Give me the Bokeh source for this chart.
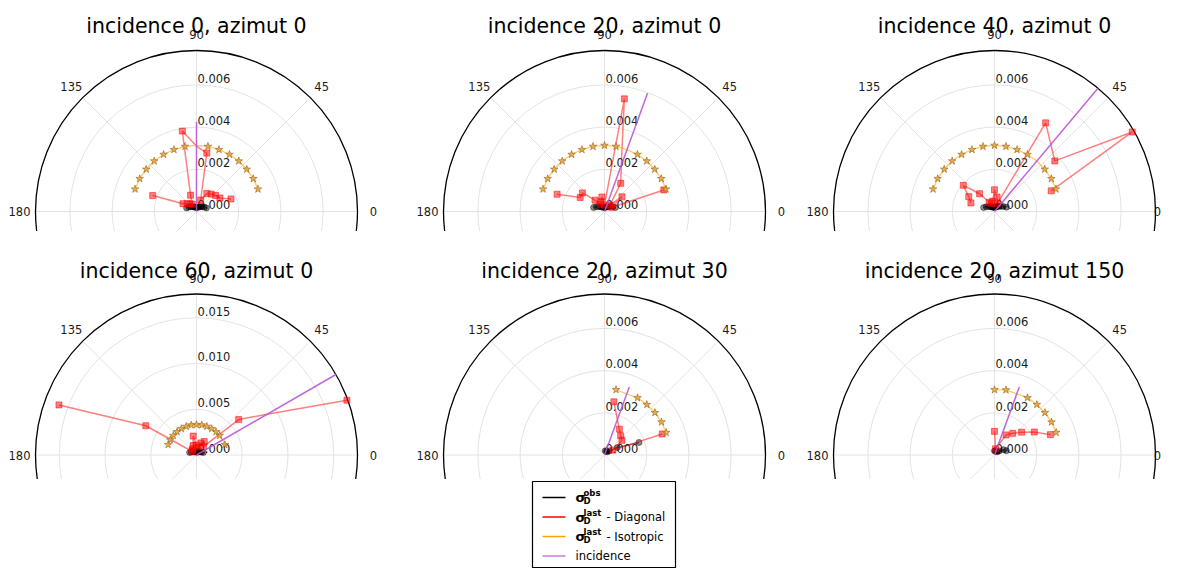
import numpy as np
from bokeh.plotting import figure
from bokeh.layouts import column, row
from bokeh.models import Range1d, Spacer
from bokeh.embed import file_html
from bokeh.resources import INLINE
from bokeh.core.properties import value

FONT = "DejaVu Sans"

# ------------------------------------------------------------------ data
titles = ["incidence 0, azimut 0", "incidence 20, azimut 0", "incidence 40, azimut 0",
          "incidence 60, azimut 0", "incidence 20, azimut 30", "incidence 20, azimut 150"]
incidence = [0, 20, 40, 60, 20, 20]

theta_az0 = [20, 30, 40, 50, 60, 70, 80, 90, 100, 110, 120, 130, 140, 150, 160]
theta_az30 = [20, 30, 40, 50, 60, 80]
theta_az150 = [20, 30, 40, 50, 60, 80, 90]

# incidence 0, azimut 0
obs_i0 = [0.00050, 0.00042, 0.00035, 0.00030, 0.00025, 0.00022, 0.00020, 0.00020,
          0.00020, 0.00022, 0.00025, 0.00030, 0.00035, 0.00042, 0.00050]
diag_i0 = [0.00174, 0.00128, 0.00118, 0.00108, 0.00098, 0.00058, 0.00281, 0.00310,
           0.00387, 0.00082, 0.00040, 0.00048, 0.00058, 0.00074, 0.00221]
iso_i0 = [0.00310, 0.00311, 0.00311, 0.00312, 0.00312, 0.00312, 0.00313, 0.00313,
          0.00313, 0.00312, 0.00312, 0.00312, 0.00311, 0.00311, 0.00310]
# incidence 20, azimut 0
obs_i20 = [0.00055, 0.00045, 0.00036, 0.00030, 0.00026, 0.00022, 0.00020, 0.00020,
           0.00020, 0.00022, 0.00025, 0.00030, 0.00036, 0.00045, 0.00055]
diag_i20 = [0.00299, 0.00040, 0.00108, 0.00040, 0.00154, 0.00232, 0.00542, 0.00030,
            0.00070, 0.00050, 0.00040, 0.00070, 0.00137, 0.00133, 0.00239]
iso_i20 = [0.00310, 0.00311, 0.00311, 0.00312, 0.00312, 0.00312, 0.00313, 0.00313,
           0.00313, 0.00312, 0.00312, 0.00312, 0.00311, 0.00311, 0.00310]
# incidence 40, azimut 0
obs_i40 = [0.00060, 0.00048, 0.00038, 0.00032, 0.00027, 0.00023, 0.00020, 0.00020,
           0.00020, 0.00022, 0.00025, 0.00030, 0.00036, 0.00045, 0.00055]
diag_i40 = [0.00286, 0.00754, 0.00373, 0.00415, 0.00485, 0.00040, 0.00070, 0.00103,
            0.00050, 0.00040, 0.00050, 0.00110, 0.00193, 0.00141, 0.00119]
iso_i40 = [0.00310, 0.00311, 0.00311, 0.00312, 0.00312, 0.00312, 0.00313, 0.00313,
           0.00313, 0.00312, 0.00312, 0.00312, 0.00311, 0.00311, 0.00310]
# incidence 60, azimut 0
obs_i60 = [0.00080, 0.00065, 0.00055, 0.00045, 0.00040, 0.00035, 0.00035, 0.00035,
           0.00035, 0.00035, 0.00040, 0.00045, 0.00055, 0.00065, 0.00080]
diag_i60 = [0.01750, 0.00890, 0.00602, 0.00120, 0.00170, 0.00140, 0.00090, 0.00110,
            0.00210, 0.00110, 0.00080, 0.00070, 0.00060, 0.00640, 0.01600]
iso_i60 = [0.00330, 0.00330, 0.00331, 0.00331, 0.00332, 0.00332, 0.00332, 0.00332,
           0.00332, 0.00332, 0.00332, 0.00331, 0.00331, 0.00330, 0.00330]
# incidence 20, azimut 30
obs_a30 = [0.00174, 0.00070, 0.00030, 0.00020, 0.00020, 0.00020]
diag_a30 = [0.00291, 0.00046, 0.00108, 0.00119, 0.00141, 0.00256]
iso_a30 = [0.00311, 0.00312, 0.00312, 0.00312, 0.00313, 0.00314]
# incidence 20, azimut 150
obs_a150 = [0.00060, 0.00050, 0.00030, 0.00020, 0.00020, 0.00020, 0.00020]
diag_a150 = [0.00282, 0.00218, 0.00168, 0.00134, 0.00110, 0.00030, 0.00112]
iso_a150 = [0.00311, 0.00312, 0.00312, 0.00312, 0.00313, 0.00313, 0.00309]

incidence_length = [0.00424, 0.00596, 0.00763, 0.0176, 0.00343, 0.00343]
r_max = [0.00763, 0.00763, 0.00763, 0.0176, 0.00763, 0.00763]
r_ticks_small = [0.002, 0.004, 0.006]
r_ticks_large = [0.005, 0.010, 0.015]
angle_ticks = [0, 45, 90, 135, 180]

panels = [
    (theta_az0, obs_i0, diag_i0, iso_i0, r_ticks_small),
    (theta_az0, obs_i20, diag_i20, iso_i20, r_ticks_small),
    (theta_az0, obs_i40, diag_i40, iso_i40, r_ticks_small),
    (theta_az0, obs_i60, diag_i60, iso_i60, r_ticks_large),
    (theta_az30, obs_a30, diag_a30, iso_a30, r_ticks_small),
    (theta_az150, obs_a150, diag_a150, iso_a150, r_ticks_small),
]

# ------------------------------------------------------------------ layout / style
TOTAL_W = 1163
R_PX = 161
COL_W = [408, 390, 365]
COL_CX = [196, 196, 196]
ROW_H = [231, 234]
ROW_CY = [211, 209.5]
ROW_TITLE_BASE = [25.3, 25.0]
GAP = 14
LEG_H = 89
GRID = "#e3e3e3"
RED = "#ff0000"
ORANGE = "#ffa500"
PURPLE = "#ba55d3"


def make_panel(k):
    col, rw = k % 3, k // 3
    theta, obs, diag, iso, rticks = panels[k]
    rmax = r_max[k]
    w, h = COL_W[col], ROW_H[rw]
    cx, cy = COL_CX[col], ROW_CY[rw]
    s = R_PX / rmax
    p = figure(width=w, height=h,
               x_range=Range1d(-cx / s, (w - cx) / s),
               y_range=Range1d(-(h - cy) / s, cy / s),
               output_backend="svg", toolbar_location=None,
               x_axis_type=None, y_axis_type=None, min_border=0,
               outline_line_color=None, background_fill_color="white",
               border_fill_color="white")

    # grid
    n = len(rticks)
    p.circle(x=[0] * n, y=[0] * n, radius=rticks, fill_color=None,
             line_color=GRID, line_width=1)
    sp = np.deg2rad(np.arange(0, 360, 45))
    p.segment(x0=0, y0=0, x1=rmax * np.cos(sp), y1=rmax * np.sin(sp),
              line_color=GRID, line_width=1)
    p.circle(x=0, y=0, radius=rmax, fill_color=None, line_color="black",
             line_width=1.3)

    # angle labels (kept inside the frame when the panel is narrow)
    at = np.deg2rad(angle_ticks)
    rl = (R_PX + 16) / s
    lx = rl * np.cos(at)
    lx = np.minimum(lx, (w - cx - 6) / s)
    p.text(x=lx, y=rl * np.sin(at), text=[str(a) for a in angle_ticks],
           text_align="center", text_baseline="middle",
           text_font=value(FONT), text_font_size="11.5px", text_color="#1a1a1a")

    # radial labels
    rv = [0.0] + list(rticks)
    p.text(x=[1 / s] * len(rv), y=np.array(rv) + 6.7 / s,
           text=[f"{v:.3f}" for v in rv], text_align="left", text_baseline="middle",
           text_font=value(FONT), text_font_size="11.5px", text_color="#1a1a1a")

    th = np.deg2rad(theta)
    spec = 90 - incidence[k]
    mask = np.array(theta) != spec

    # observed
    ox, oy = np.array(obs) * np.cos(th), np.array(obs) * np.sin(th)
    p.line(ox, oy, line_color="black", line_alpha=0.5, line_width=1.5)
    p.scatter(ox, oy, marker="circle", size=6, fill_color="black", fill_alpha=0.45,
              line_color="black", line_alpha=0.45)

    # diagonal
    dx, dy = np.array(diag) * np.cos(th), np.array(diag) * np.sin(th)
    p.line(dx, dy, line_color=RED, line_alpha=0.5, line_width=1.5)
    p.scatter(dx[mask], dy[mask], marker="square", size=6, fill_color=RED,
              fill_alpha=0.5, line_color=RED, line_alpha=0.5)

    # isotropic
    ix, iy = np.array(iso) * np.cos(th), np.array(iso) * np.sin(th)
    p.line(ix, iy, line_color=ORANGE, line_alpha=0.6, line_width=1.3)
    p.scatter(ix[mask], iy[mask], marker="star", size=8, fill_color="#e8a53a",
              fill_alpha=0.85, line_color="#9a6a20", line_alpha=0.8, line_width=0.8)

    # incidence direction
    a = np.deg2rad(spec)
    L = incidence_length[k]
    p.line([0, L * np.cos(a)], [0, L * np.sin(a)], line_color=PURPLE,
           line_alpha=0.9, line_width=1.5)

    # title
    p.text(x=[0], y=[(cy - ROW_TITLE_BASE[rw]) / s], text=[titles[k]],
           text_align="center", text_baseline="alphabetic",
           text_font=value(FONT), text_font_size="20.5px", text_color="black")
    return p


figs = [make_panel(k) for k in range(6)]

# ------------------------------------------------------------------ legend
leg = figure(width=TOTAL_W, height=LEG_H, x_range=Range1d(0, TOTAL_W),
             y_range=Range1d(LEG_H, 0), output_backend="svg", toolbar_location=None,
             x_axis_type=None, y_axis_type=None, min_border=0,
             outline_line_color=None)
leg.quad(left=[532], right=[675], top=[2], bottom=[88], fill_color="white",
         line_color="black", line_width=1.2)
rows_y = [18, 37.5, 57, 76.5]
leg_colors = ["black", RED, ORANGE, "#c77ddb"]
leg.segment(x0=[542] * 4, y0=rows_y, x1=[565] * 4, y1=rows_y,
            line_color=leg_colors, line_width=1.5)
sig_rows = rows_y[:3]
leg.text(x=[575] * 3, y=sig_rows, text=["σ"] * 3, text_align="left",
         text_baseline="middle", text_font=value(FONT), text_font_size="13px",
         text_font_style="bold")
leg.text(x=[583] * 3, y=[r - 4.5 for r in sig_rows], text=["obs", "last", "last"],
         text_align="left", text_baseline="middle", text_font=value(FONT),
         text_font_size="8.5px", text_font_style="bold")
leg.text(x=[583] * 3, y=[r + 3.8 for r in sig_rows], text=["D", "D", "D"],
         text_align="left", text_baseline="middle", text_font=value(FONT),
         text_font_size="8.5px", text_font_style="bold")
leg.text(x=[606, 606, 575], y=[rows_y[1], rows_y[2], rows_y[3]],
         text=["- Diagonal", "- Isotropic", "incidence"], text_align="left",
         text_baseline="middle", text_font=value(FONT), text_font_size="11.5px")

layout = column(row(figs[0], figs[1], figs[2]),
                Spacer(width=TOTAL_W, height=GAP),
                row(figs[3], figs[4], figs[5]),
                leg)

open("out.html", "w").write(file_html(layout, INLINE))
